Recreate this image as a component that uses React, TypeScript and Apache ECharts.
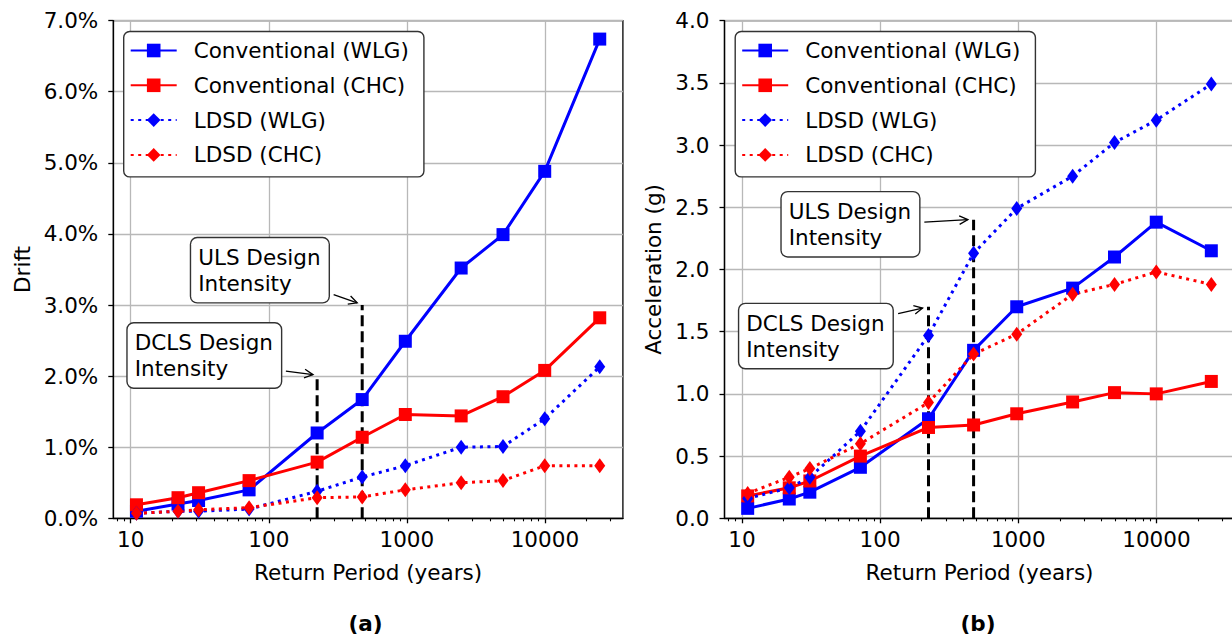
import React, { useEffect, useRef } from 'react';
import * as echarts from 'echarts';

// ---------- data ----------
const returnPeriods = [11, 22, 31, 72, 224, 475, 975, 2475, 4975, 9975, 24975];

const seriesNames = ['Conventional (WLG)', 'Conventional (CHC)', 'LDSD (WLG)', 'LDSD (CHC)'];

// drift, percent
const driftConvWLG = [0.1, 0.2, 0.25, 0.4, 1.2, 1.67, 2.49, 3.52, 3.99, 4.88, 6.74];
const driftConvCHC = [0.19, 0.29, 0.36, 0.53, 0.79, 1.14, 1.46, 1.44, 1.71, 2.08, 2.82];
const driftLdsdWLG = [0.07, 0.1, 0.1, 0.13, 0.38, 0.58, 0.74, 1.0, 1.01, 1.4, 2.13];
const driftLdsdCHC = [0.07, 0.1, 0.12, 0.15, 0.29, 0.3, 0.4, 0.5, 0.53, 0.74, 0.74];

// acceleration, g
const accConvWLG = [0.08, 0.155, 0.21, 0.41, 0.8, 1.35, 1.7, 1.85, 2.1, 2.38, 2.15];
const accConvCHC = [0.18, 0.245, 0.3, 0.5, 0.73, 0.75, 0.84, 0.935, 1.01, 1.0, 1.1];
const accLdsdWLG = [0.16, 0.245, 0.33, 0.7, 1.47, 2.13, 2.49, 2.75, 3.02, 3.2, 3.49];
const accLdsdCHC = [0.2, 0.33, 0.4, 0.6, 0.93, 1.32, 1.48, 1.8, 1.88, 1.98, 1.88];

// design intensities (return period) and heights of the dashed markers
const designRP = [224, 475];
const driftDesignTops = [2.0, 3.0];
const accDesignTops = [1.7, 2.4];

// ticks
const xMajorTicks = [10, 100, 1000, 10000];
const xMinorTicks = [8, 9, 20, 30, 40, 50, 60, 70, 80, 90, 200, 300, 400, 500, 600, 700, 800, 900,
  2000, 3000, 4000, 5000, 6000, 7000, 8000, 9000, 20000, 30000];

// annotations (data coordinates): box top-left, arrow from -> to
const driftAnnots = [
  { text: 'DCLS Design\nIntensity', box: [9.5, 2.74], from: [133, 2.07], to: [209, 2.02] },
  { text: 'ULS Design\nIntensity', box: [27.4, 3.94], from: [295, 3.146], to: [437, 3.03] },
];
const accAnnots = [
  { text: 'DCLS Design\nIntensity', box: [9.56, 1.722], from: [135, 1.645], to: [203, 1.69] },
  { text: 'ULS Design\nIntensity', box: [19.4, 2.62], from: [209, 2.381], to: [432, 2.40] },
];

const FONT = 'DejaVu Sans';
const FS = 21.5;
const BLUE = '#0000ff';
const RED = '#ff0000';

const lo = Math.log10(returnPeriods[0]);
const hi = Math.log10(returnPeriods[returnPeriods.length - 1]);
const pad = 0.05 * (hi - lo);
const xMin = Math.pow(10, lo - pad);
const xMax = Math.pow(10, hi + pad);

function lineSeries(name: string, data: number[], color: string, dotted: boolean, chart: number) {
  return {
    type: 'line',
    name,
    xAxisIndex: chart * 2,
    yAxisIndex: chart,
    data: returnPeriods.map((x, i) => [x, data[i]]),
    symbol: dotted ? 'diamond' : 'rect',
    symbolSize: dotted ? [11, 15] : 13,
    showSymbol: true,
    lineStyle: { color, width: 3, type: dotted ? [3, 4.5] : 'solid', cap: 'butt' },
    itemStyle: { color, borderWidth: 0 },
    z: 3,
  };
}

function designSeries(chart: number, tops: number[]) {
  return designRP.map((rp, i) => ({
    type: 'line',
    name: 'design-' + chart + '-' + i,
    xAxisIndex: chart * 2,
    yAxisIndex: chart,
    data: [[rp, 0], [rp, tops[i]]],
    symbol: 'none',
    silent: true,
    lineStyle: { color: '#000', width: 3, type: [11, 5] },
    z: 2,
  }));
}

function xAxes(gridIndex: number) {
  return [
    {
      type: 'log',
      logBase: 10,
      gridIndex,
      position: 'bottom',
      min: xMin,
      max: xMax,
      name: 'Return Period (years)',
      nameLocation: 'middle',
      nameGap: 43,
      nameTextStyle: { fontSize: FS, color: '#000', fontFamily: FONT },
      axisLine: { show: true, lineStyle: { color: '#000', width: 1.3 } },
      axisTick: { show: true, length: 5, lineStyle: { color: '#000', width: 1.3 }, customValues: xMajorTicks },
      axisLabel: {
        show: true,
        customValues: xMajorTicks,
        margin: 10,
        fontSize: FS,
        color: '#000',
        fontFamily: FONT,
        formatter: (v: number) => String(Math.round(v)),
      },
      splitLine: { show: true, lineStyle: { color: '#b8b8b8', width: 1.3 } },
    },
    {
      type: 'log',
      logBase: 10,
      gridIndex,
      position: 'bottom',
      min: xMin,
      max: xMax,
      axisLine: { show: false },
      axisTick: { show: true, length: 3, lineStyle: { color: '#000', width: 1.1 }, customValues: xMinorTicks },
      axisLabel: { show: false },
      splitLine: { show: false },
    },
  ];
}

function yAxis(gridIndex: number, max: number, interval: number, name: string, nameGap: number, fmt: (v: number) => string) {
  return {
    type: 'value',
    gridIndex,
    min: 0,
    max,
    interval,
    name,
    nameLocation: 'middle',
    nameGap,
    nameTextStyle: { fontSize: FS, color: '#000', fontFamily: FONT },
    axisLine: { show: true, lineStyle: { color: '#000', width: 1.3 } },
    axisTick: { show: true, length: 5, lineStyle: { color: '#000', width: 1.3 } },
    axisLabel: { margin: 15, fontSize: FS, color: '#000', fontFamily: FONT, formatter: fmt },
    splitLine: { show: true, lineStyle: { color: '#b8b8b8', width: 1.3 } },
  };
}

function legend(left: number) {
  return {
    orient: 'vertical',
    left,
    top: 31.5,
    data: seriesNames,
    itemWidth: 46,
    itemHeight: 17,
    itemGap: 12.8,
    padding: [8, 15, 11, 6],
    backgroundColor: '#fff',
    borderColor: '#333',
    borderWidth: 1.4,
    borderRadius: 6,
    selectedMode: false,
    textStyle: { fontSize: FS, lineHeight: 22, color: '#000', fontFamily: FONT, padding: [0, 0, 0, 12] },
    z: 10,
  };
}

function annotGraphics(chart: echarts.ECharts, seriesIndex: number, annots: any[]) {
  const out: any[] = [];
  annots.forEach((a) => {
    const b = chart.convertToPixel({ seriesIndex }, a.box) as number[];
    const f = chart.convertToPixel({ seriesIndex }, a.from) as number[];
    const t = chart.convertToPixel({ seriesIndex }, a.to) as number[];
    out.push({
      type: 'text',
      x: b[0],
      y: b[1],
      z: 20,
      style: {
        text: a.text,
        fontSize: FS,
        fontFamily: FONT,
        fill: '#000',
        lineHeight: 26,
        align: 'left',
        verticalAlign: 'top',
        backgroundColor: '#fff',
        borderColor: '#333',
        borderWidth: 1.4,
        borderRadius: 6,
        padding: [6, 8, 6, 7],
      },
    });
    const dx = t[0] - f[0];
    const dy = t[1] - f[1];
    const len = Math.sqrt(dx * dx + dy * dy);
    const ux = dx / len;
    const uy = dy / len;
    const L = 8.5;
    const W = 4.3;
    out.push({
      type: 'line',
      z: 20,
      shape: { x1: f[0], y1: f[1], x2: t[0], y2: t[1] },
      style: { stroke: '#000', lineWidth: 1.3 },
    });
    out.push({
      type: 'polyline',
      z: 20,
      shape: {
        points: [
          [t[0] - ux * L - uy * W, t[1] - uy * L + ux * W],
          [t[0], t[1]],
          [t[0] - ux * L + uy * W, t[1] - uy * L - ux * W],
        ],
      },
      style: { stroke: '#000', fill: null, lineWidth: 1.3 },
    });
  });
  return out;
}

export default function App() {
  const ref = useRef<HTMLDivElement>(null);
  useEffect(() => {
    if (!ref.current) return;
    const chart = echarts.init(ref.current, null, { renderer: 'svg' });
    const gridCommon = {
      show: true,
      borderColor: '#000',
      borderWidth: 1.3,
      backgroundColor: 'transparent',
      containLabel: false,
      outerBoundsMode: 'none',
    };
    const series: any[] = [
      ...designSeries(0, driftDesignTops),
      lineSeries(seriesNames[0], driftConvWLG, BLUE, false, 0),
      lineSeries(seriesNames[1], driftConvCHC, RED, false, 0),
      lineSeries(seriesNames[2], driftLdsdWLG, BLUE, true, 0),
      lineSeries(seriesNames[3], driftLdsdCHC, RED, true, 0),
      ...designSeries(1, accDesignTops),
      lineSeries(seriesNames[0], accConvWLG, BLUE, false, 1),
      lineSeries(seriesNames[1], accConvCHC, RED, false, 1),
      lineSeries(seriesNames[2], accLdsdWLG, BLUE, true, 1),
      lineSeries(seriesNames[3], accLdsdCHC, RED, true, 1),
    ];
    chart.setOption({
      animation: false,
      textStyle: { fontFamily: FONT },
      grid: [
        { ...gridCommon, left: 113.3, top: 20.6, width: 509.6, height: 497.7 },
        { ...gridCommon, left: 724.5, top: 20.6, width: 510, height: 497.7 },
      ],
      xAxis: [...xAxes(0), ...xAxes(1)],
      yAxis: [
        yAxis(0, 7, 1, 'Drift', 80, (v: number) => v.toFixed(1) + '%'),
        yAxis(1, 4, 0.5, 'Acceleration (g)', 60, (v: number) => v.toFixed(1)),
      ],
      legend: [legend(123.7), legend(735.2)],
      series,
    });
    const graphics = [
      ...annotGraphics(chart, 0, driftAnnots),
      ...annotGraphics(chart, 6, accAnnots),
      {
        type: 'text', x: 365.5, y: 623, z: 20,
        style: { text: '(a)', fontSize: FS, fontWeight: 'bold', fontFamily: FONT, fill: '#000', align: 'center', verticalAlign: 'middle' },
      },
      {
        type: 'text', x: 978, y: 623, z: 20,
        style: { text: '(b)', fontSize: FS, fontWeight: 'bold', fontFamily: FONT, fill: '#000', align: 'center', verticalAlign: 'middle' },
      },
    ];
    chart.setOption({ graphic: graphics });
    return () => chart.dispose();
  }, []);
  return (
    <div
      ref={ref}
      style={{ position: 'absolute', left: 0, top: 0, width: 1232, height: 636, background: '#fff' }}
    />
  );
}
